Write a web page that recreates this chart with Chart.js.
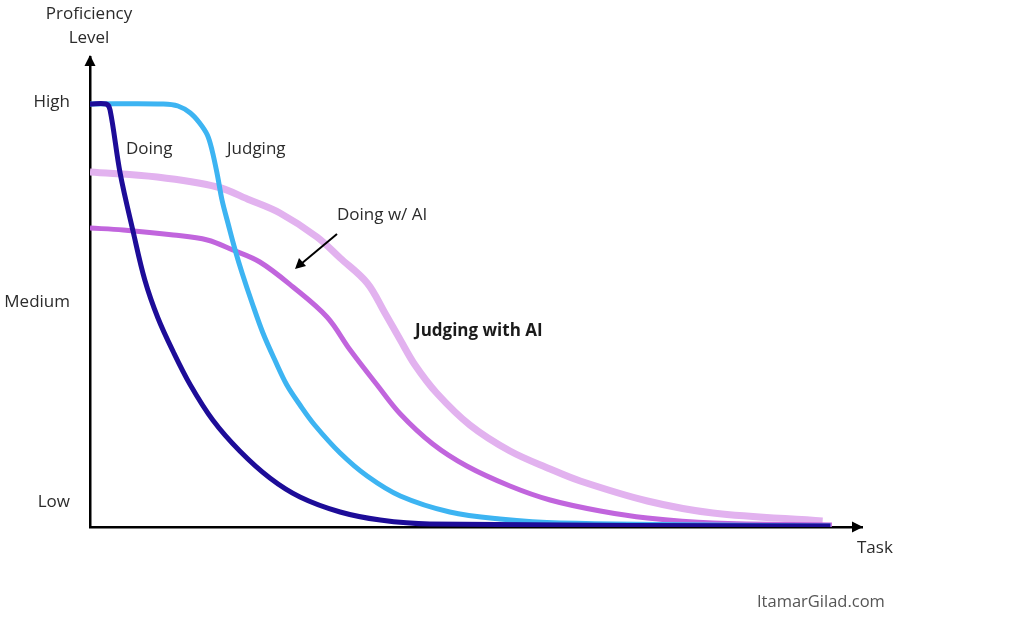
<!DOCTYPE html>
<html>
<head>
<meta charset="utf-8">
<script src="https://cdn.jsdelivr.net/npm/chart.js@4"></script>
<style>
  html, body { margin: 0; padding: 0; background: #fff; }
  #wrap { width: 1024px; height: 617px; position: relative; }
</style>
</head>
<body>
<div id="wrap"><canvas id="curves"></canvas></div>
<script>
// proficiency levels on the y axis
const levelValues = [5, 45, 85];
const levelLabels = ["Low", "Medium", "High"];

// curves, x = task (0..100), y = proficiency (0..94)
const doingX = [0, 2.1, 2.6, 3.9, 5.6, 7.1, 8.8, 10.8, 13.0, 15.9, 19.4, 23.3, 27.2, 32.4, 37.6, 44.0, 95.9];
const doingY = [84.6, 84.6, 83.4, 70.8, 59.0, 49.4, 41.8, 35.0, 28.4, 21.4, 15.2, 9.8, 6.0, 3.0, 1.4, 0.6, 0.2];

const judgingX = [0, 9.5, 11.4, 13.0, 14.2, 15.2, 15.8, 16.5, 17.1, 17.9, 18.8, 19.7, 21.0, 22.4, 24.0, 25.5, 27.2, 29.1, 32.4, 35.9, 40.2, 46.6, 53.1, 60.9, 95.9];
const judgingY = [84.6, 84.6, 84.2, 82.8, 80.8, 78.4, 75.4, 70.4, 65.4, 60.6, 55.4, 50.8, 44.8, 38.8, 33.2, 28.4, 24.4, 20.4, 14.8, 10.2, 6.2, 3.0, 1.6, 0.8, 0.2];

const doingAiX = [0, 4.3, 10.8, 15.2, 18.5, 22.0, 26.3, 30.7, 33.7, 37.2, 40.2, 44.4, 48.8, 54.4, 59.6, 66.1, 72.2, 80.7, 96.1];
const doingAiY = [59.8, 59.4, 58.4, 57.4, 55.4, 53.0, 48.0, 42.0, 35.4, 28.4, 22.6, 16.6, 12.2, 8.2, 5.4, 3.2, 1.8, 0.8, 0.4];

const judgingAiX = [0, 8.7, 16.5, 20.7, 24.6, 29.4, 32.4, 35.9, 38.2, 40.2, 42.1, 44.9, 49.2, 54.4, 59.6, 63.5, 72.2, 80.7, 94.9];
const judgingAiY = [71.0, 70.0, 68.0, 65.4, 62.8, 58.0, 53.8, 48.8, 42.8, 37.4, 32.4, 26.8, 20.4, 15.2, 11.6, 9.2, 5.2, 2.8, 1.2];

function pts(xs, ys) {
  return xs.map((x, i) => ({ x: x, y: ys[i] }));
}

const FONT = "'Open Sans', 'Noto Sans', sans-serif";

// arrows on the axes + text labels
const extras = {
  id: "extras",
  afterDraw(chart) {
    const ctx = chart.ctx;
    const a = chart.chartArea;
    ctx.save();
    ctx.fillStyle = "#000";
    // y arrow
    ctx.beginPath();
    ctx.moveTo(a.left, a.top - 2);
    ctx.lineTo(a.left - 5.5, a.top + 9);
    ctx.lineTo(a.left + 5.5, a.top + 9);
    ctx.closePath();
    ctx.fill();
    // x arrow
    ctx.beginPath();
    ctx.moveTo(a.right + 1, a.bottom);
    ctx.lineTo(a.right - 10, a.bottom - 5.5);
    ctx.lineTo(a.right - 10, a.bottom + 5.5);
    ctx.closePath();
    ctx.fill();

    // "Doing w/ AI" pointer
    ctx.strokeStyle = "#000";
    ctx.lineWidth = 2;
    ctx.beginPath();
    ctx.moveTo(337, 234);
    ctx.lineTo(301, 264);
    ctx.stroke();
    ctx.beginPath();
    ctx.moveTo(295, 269);
    ctx.lineTo(299, 258);
    ctx.lineTo(306, 266);
    ctx.closePath();
    ctx.fill();

    ctx.fillStyle = "#2b2b2b";
    ctx.textBaseline = "middle";
    ctx.font = "17px " + FONT;
    ctx.textAlign = "center";
    ctx.fillText("Proficiency", 89, 14);
    ctx.fillText("Level", 89, 38);
    ctx.textAlign = "left";
    ctx.fillText("Task", 857, 548);
    ctx.fillText("Doing", 126, 149);
    ctx.fillText("Judging", 227, 149);
    ctx.fillText("Doing w/ AI", 337, 215);
    ctx.font = "bold 17px " + FONT;
    ctx.fillStyle = "#1a1a1a";
    ctx.fillText("Judging with AI", 415, 331);
    ctx.font = "16.5px " + FONT;
    ctx.fillStyle = "#555";
    ctx.fillText("ItamarGilad.com", 757, 602);
    ctx.restore();
  }
};

new Chart(document.getElementById("curves"), {
  type: "line",
  data: {
    datasets: [
      { label: "Doing", data: pts(doingX, doingY), borderColor: "#1d0c98", borderWidth: 5 },
      { label: "Judging", data: pts(judgingX, judgingY), borderColor: "#3db4f2", borderWidth: 5 },
      { label: "Doing w/ AI", data: pts(doingAiX, doingAiY), borderColor: "#c165dd", borderWidth: 5 },
      { label: "Judging with AI", data: pts(judgingAiX, judgingAiY), borderColor: "#e2b2ef", borderWidth: 7 }
    ]
  },
  options: {
    responsive: true,
    maintainAspectRatio: false,
    animation: false,
    layout: { padding: { top: 57, right: 162, left: 0, bottom: 0 } },
    elements: {
      point: { radius: 0 },
      line: { tension: 0.35, borderCapStyle: "butt", borderJoinStyle: "round" }
    },
    plugins: {
      legend: { display: false },
      tooltip: { enabled: false }
    },
    scales: {
      x: {
        type: "linear",
        min: 0,
        max: 100,
        ticks: { display: false },
        grid: { drawOnChartArea: false, drawTicks: false },
        border: { color: "#000", width: 2.5 },
        afterFit(scale) { scale.height = 90; }
      },
      y: {
        type: "linear",
        min: 0,
        max: 94,
        afterBuildTicks(scale) {
          scale.ticks = levelValues.map(v => ({ value: v }));
        },
        ticks: {
          padding: 20,
          color: "#2b2b2b",
          font: { size: 17, family: FONT },
          callback: (v) => levelLabels[levelValues.indexOf(v)]
        },
        grid: { drawOnChartArea: false, drawTicks: false },
        border: { color: "#000", width: 2.5 },
        afterFit(scale) { scale.width = 90; }
      }
    }
  },
  plugins: [extras]
});
</script>
</body>
</html>
